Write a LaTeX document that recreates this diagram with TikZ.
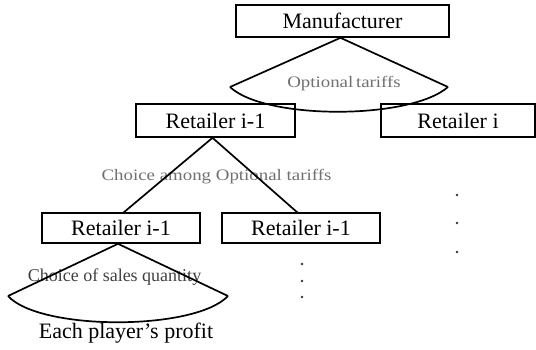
\documentclass[tikz,border=0pt]{standalone}
\usepackage{fontspec}
\setmainfont{Liberation Serif}
\newfontfamily\wideserif[FakeStretch=1.18]{Liberation Serif}
\definecolor{labgray}{HTML}{707070}
\definecolor{darkgray2}{HTML}{404040}
\begin{document}
\begin{tikzpicture}[x=1pt,y=-1pt,
  line/.style={line width=1.7pt,line join=miter},
  boxnode/.style={draw,line width=1.6pt,rectangle,inner sep=0pt,font=\fontsize{22}{24}\selectfont},
  graylab/.style={text=labgray,inner sep=0pt,anchor=base,font=\wideserif\fontsize{16}{18}\selectfont},
  dotmark/.style={fill=black!80,circle,inner sep=0pt,minimum size=2.6pt}]
\useasboundingbox (0,0) rectangle (536,349);
% labels (drawn first, lines cross them)
\node[graylab] (optlab) at (344,87) {Optional\,tariffs};
\node[graylab] (chlab) at (216.5,180) {Choice among Optional tariffs};
\node[text=darkgray2,inner sep=0pt,anchor=base,font=\fontsize{18}{20}\selectfont] (qlab) at (114.5,281) {Choice of sales quantity};
\node[inner sep=0pt,anchor=base,font=\fontsize{22}{24}\selectfont] (profit) at (126,338) {Each player's profit};
% boxes
\node[boxnode,minimum width=213pt,minimum height=32pt] (mfr) at (342.5,21) {Manufacturer};
\node[boxnode,minimum width=159pt,minimum height=33pt] (r1) at (215.5,120.5) {Retailer i-1};
\node[boxnode,minimum width=154pt,minimum height=33pt] (ri) at (458,120.5) {Retailer i};
\node[boxnode,minimum width=158pt,minimum height=30pt] (lowL) at (121,228) {Retailer i-1};
\node[boxnode,minimum width=158pt,minimum height=30pt] (lowR) at (301,228) {Retailer i-1};
% upper fan
\coordinate (fanL) at (230,87);
\coordinate (fanR) at (448,87);
\draw[line] (fanL) -- ([xshift=-2pt]mfr.south) -- (fanR);
\draw[line] (fanL) .. controls (265,120) and (410,120) .. (fanR);
% choice lines
\coordinate (chL) at (123,213);
\coordinate (chR) at (298,213);
\draw[line] (chL) -- ([xshift=-3pt]r1.south) -- (chR);
% lower fan
\coordinate (qL) at (8,296);
\coordinate (qR) at (228,296);
\draw[line] (qL) -- ([xshift=-3pt]lowL.south) -- (qR);
\draw[line] (qL) .. controls (40,331) and (195,331) .. (qR);
% dots
\node[dotmark] (d1) at (457,195) {};
\node[dotmark] (d2) at (457,223) {};
\node[dotmark] (d3) at (457,252) {};
\node[dotmark] (d4) at (302,264) {};
\node[dotmark] (d5) at (302,281) {};
\node[dotmark] (d6) at (302,297) {};
\end{tikzpicture}
\end{document}
